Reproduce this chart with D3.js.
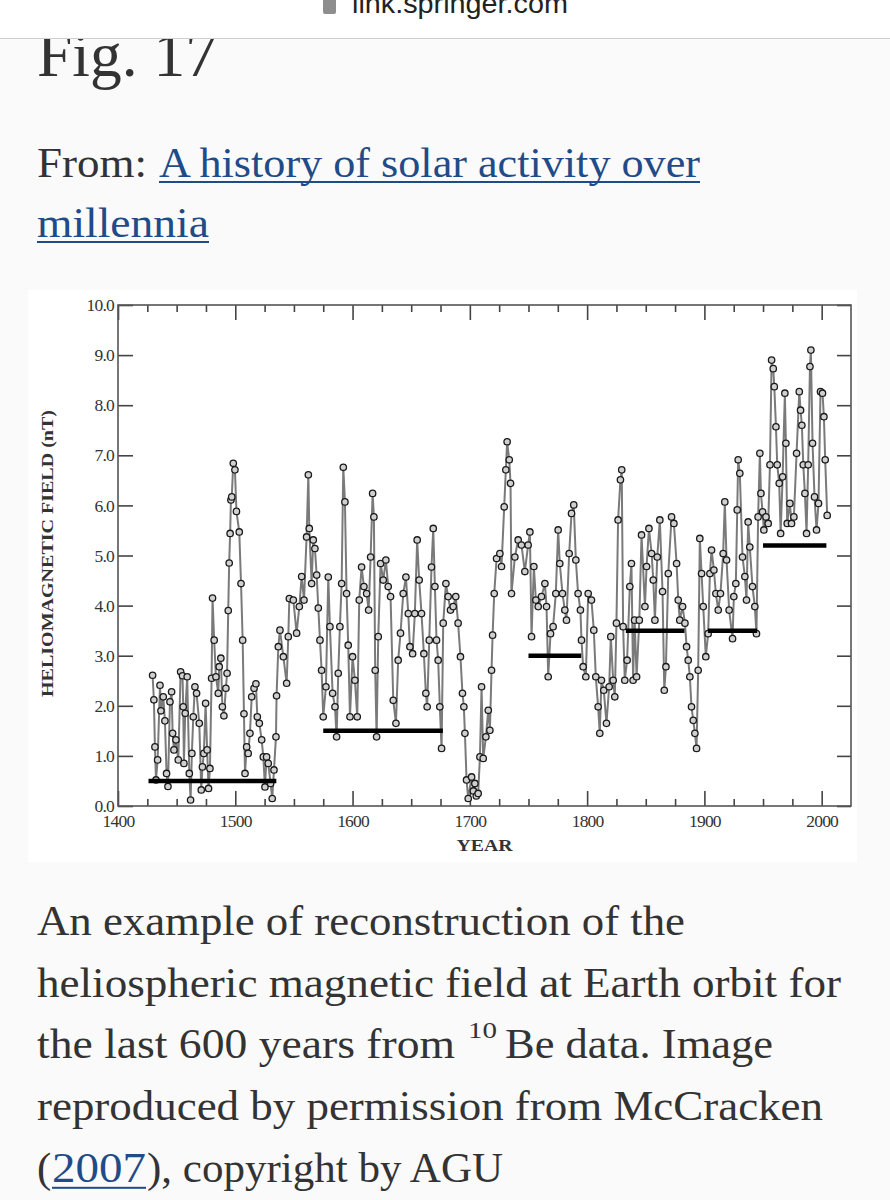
<!DOCTYPE html>
<html>
<head>
<meta charset="utf-8">
<script src="https://cdn.jsdelivr.net/npm/d3@7"></script>
<style>
  html, body { margin: 0; padding: 0; background: #fafafa; }
  svg { display: block; }
</style>
</head>
<body>
<div id="page"></div>
<script>
// Heliospheric magnetic field reconstruction from 10Be (McCracken 2007), Fig. 17 screenshot

// yearly readings taken off the figure
const years = [
  1429.5, 1430.6, 1431.5, 1432.4, 1433.8, 1435.8, 1436.6, 1438.6, 1440.0, 1441.4,
  1442.6, 1444.3, 1445.7, 1446.6, 1447.7, 1449.4, 1451.4, 1453.4, 1455.0, 1455.6,
  1456.2, 1457.3, 1459.0, 1460.8, 1461.9, 1463.0, 1464.2, 1465.6, 1467.0, 1469.3,
  1471.0, 1472.0, 1473.2, 1474.7, 1476.0, 1477.2, 1478.4, 1479.8, 1480.6, 1482.0,
  1483.5, 1485.5, 1486.3, 1487.7, 1489.0, 1490.3, 1492.0, 1493.0, 1494.0, 1494.8,
  1495.6, 1496.3, 1497.0, 1498.3, 1499.7, 1501.0, 1503.4, 1504.9, 1506.3, 1507.4,
  1508.3, 1509.7, 1511.0, 1512.5, 1514.0, 1516.0, 1517.6, 1518.8, 1520.5, 1522.5,
  1523.9, 1525.3, 1526.7, 1528.1, 1530.1, 1531.5, 1533.0, 1534.7, 1535.2, 1536.7,
  1538.1, 1541.0, 1543.8, 1545.2, 1546.1, 1549.5, 1552.3, 1554.6, 1556.6, 1558.6,
  1560.8, 1562.3, 1563.1, 1565.1, 1566.5, 1567.9, 1569.4, 1570.8, 1572.2, 1573.6,
  1575.0, 1577.3, 1579.3, 1580.7, 1583.0, 1585.0, 1586.4, 1587.8, 1589.2, 1590.7,
  1592.1, 1593.5, 1594.9, 1596.3, 1597.8, 1600.0, 1602.0, 1604.0, 1605.7, 1607.7,
  1609.7, 1612.0, 1613.7, 1615.4, 1617.1, 1618.2, 1619.3, 1620.5, 1621.9, 1623.9,
  1626.2, 1628.4, 1630.4, 1632.4, 1634.7, 1637.0, 1638.9, 1640.9, 1643.2, 1645.5,
  1647.5, 1648.9, 1651.2, 1653.1, 1655.1, 1656.8, 1658.8, 1660.8, 1662.5, 1663.6,
  1665.4, 1667.3, 1668.8, 1670.2, 1671.6, 1673.0, 1674.4, 1675.9, 1677.3, 1679.6,
  1681.5, 1683.5, 1685.8, 1688.0, 1690.0, 1692.0, 1693.7, 1694.9, 1695.8, 1697.2,
  1698.6, 1701.5, 1703.0, 1704.3, 1705.5, 1707.1, 1708.6, 1710.0, 1711.4, 1713.7,
  1715.7, 1717.1, 1718.5, 1719.4, 1720.8, 1722.8, 1725.6, 1727.0, 1729.3, 1730.7,
  1731.8, 1733.6, 1734.7, 1735.5, 1738.4, 1741.2, 1744.0, 1746.9, 1749.7, 1751.2,
  1752.6, 1754.6, 1756.3, 1758.3, 1761.1, 1764.0, 1765.4, 1766.8, 1768.8, 1771.0,
  1773.3, 1775.3, 1776.7, 1779.0, 1781.0, 1782.4, 1784.7, 1786.7, 1788.6, 1790.4,
  1792.3, 1794.3, 1795.2, 1796.6, 1798.9, 1800.9, 1803.7, 1805.7, 1807.4, 1809.4,
  1810.8, 1812.2, 1814.2, 1816.5, 1818.8, 1820.2, 1822.2, 1823.6, 1825.0, 1826.4,
  1828.4, 1829.5, 1830.7, 1832.1, 1834.1, 1836.4, 1837.8, 1839.2, 1840.5, 1842.2,
  1844.5, 1846.4, 1849.3, 1850.7, 1852.7, 1855.0, 1856.4, 1857.8, 1859.8, 1862.0,
  1864.3, 1865.8, 1867.2, 1869.2, 1872.0, 1874.0, 1876.3, 1877.7, 1879.0, 1881.4,
  1883.4, 1884.8, 1886.2, 1887.6, 1889.0, 1890.5, 1891.9, 1893.3, 1894.7, 1896.1,
  1897.6, 1899.0, 1901.2, 1903.2, 1904.7, 1906.1, 1908.1, 1909.8, 1911.8, 1913.7,
  1916.0, 1917.4, 1918.9, 1921.1, 1924.0, 1925.1, 1926.8, 1928.0, 1928.8, 1930.2,
  1932.5, 1934.5, 1935.9, 1937.3, 1938.7, 1941.0, 1943.0, 1944.4, 1945.8, 1947.3,
  1948.2, 1949.6, 1950.7, 1952.5, 1954.4, 1955.9, 1957.3, 1958.7, 1959.6, 1961.0,
  1962.1, 1963.8, 1965.0, 1966.7, 1968.6, 1969.5, 1970.6, 1972.9, 1974.3, 1976.3,
  1978.6, 1980.9, 1982.0, 1983.1, 1984.3, 1985.7, 1987.1, 1988.5, 1990.0, 1990.8,
  1992.2, 1993.9, 1995.6, 1997.3, 1999.0, 2000.7, 2001.9, 2003.0, 2004.7
];

// heliomagnetic field, nT
const hmf = [
  2.61, 2.12, 1.18, 0.52, 0.92, 2.41, 1.90, 2.18, 1.70, 0.65,
  0.39, 2.08, 2.28, 1.45, 1.12, 1.32, 0.92, 2.68, 2.60, 1.98,
  0.85, 1.85, 2.58, 0.65, 0.12, 1.05, 1.78, 2.38, 2.25, 1.65,
  0.32, 0.78, 1.05, 2.05, 1.12, 0.35, 0.75, 2.55, 4.15, 3.31,
  2.58, 2.25, 2.78, 2.95, 1.98, 1.80, 2.35, 2.65, 3.90, 4.85,
  5.44, 6.11, 6.17, 6.84, 6.71, 5.88, 5.47, 4.44, 3.31, 1.84,
  0.65, 1.18, 1.05, 1.45, 2.18, 2.35, 2.44, 1.78, 1.65, 1.32,
  0.98, 0.38, 0.98, 0.85, 0.45, 0.15, 0.72, 1.38, 2.20, 3.18,
  3.51, 2.98, 2.45, 3.38, 4.14, 4.11, 3.45, 3.98, 4.58, 4.11,
  5.37, 6.61, 5.54, 4.44, 5.31, 5.14, 4.61, 3.95, 3.31, 2.71,
  1.78, 2.38, 4.57, 3.58, 2.25, 1.98, 1.38, 2.65, 3.58, 4.44,
  6.76, 6.07, 4.24, 3.21, 1.78, 2.98, 2.51, 1.78, 4.11, 4.77,
  4.38, 4.24, 3.91, 4.97, 6.24, 5.77, 2.71, 1.38, 3.38, 4.84,
  4.51, 4.91, 4.38, 4.18, 2.11, 1.65, 2.91, 3.45, 4.24, 4.57,
  3.84, 3.18, 3.04, 3.84, 5.31, 4.51, 3.84, 3.04, 2.25, 1.98,
  3.31, 4.77, 5.54, 4.38, 3.31, 2.91, 1.98, 1.15, 3.65, 4.44,
  4.18, 3.91, 3.98, 4.18, 3.65, 2.98, 2.25, 1.98, 1.45, 0.52,
  0.15, 0.58, 0.30, 0.45, 0.20, 0.25, 0.98, 2.38, 0.95, 1.38,
  1.91, 1.51, 2.71, 3.41, 4.24, 4.94, 5.04, 4.78, 5.97, 6.71,
  7.27, 6.91, 6.44, 4.24, 4.97, 5.31, 5.21, 4.68, 5.21, 5.47,
  3.38, 4.78, 4.11, 3.98, 4.18, 4.44, 3.98, 2.58, 3.44, 3.58,
  4.24, 5.51, 4.84, 4.24, 3.91, 3.71, 5.04, 5.84, 6.01, 4.91,
  4.24, 3.91, 3.31, 2.78, 2.58, 4.24, 4.11, 3.51, 2.58, 1.98,
  1.45, 2.51, 2.31, 1.65, 2.38, 3.38, 2.51, 2.18, 3.65, 5.71,
  6.51, 6.71, 3.58, 2.51, 2.91, 4.38, 4.84, 2.51, 3.71, 2.58,
  3.71, 5.41, 3.98, 4.78, 5.54, 5.04, 4.51, 3.71, 4.97, 5.71,
  4.28, 2.31, 2.78, 4.64, 5.77, 5.64, 4.84, 4.11, 3.71, 3.98,
  3.65, 3.18, 2.91, 2.58, 1.98, 1.71, 1.45, 1.15, 2.71, 5.34,
  4.64, 3.98, 2.98, 3.44, 4.64, 5.11, 4.71, 4.24, 3.91, 4.24,
  5.04, 6.07, 4.91, 3.91, 3.34, 4.18, 4.44, 5.91, 6.91, 6.64,
  4.97, 4.58, 4.11, 5.67, 5.17, 4.38, 3.98, 3.44, 5.77, 7.04,
  6.24, 5.87, 5.51, 5.77, 5.64, 6.81, 8.90, 8.73, 8.37, 7.57,
  6.81, 6.44, 5.44, 6.57, 8.24, 7.24, 5.64, 6.04, 5.64, 5.77,
  7.04, 8.27, 7.90, 7.60, 6.81, 6.24, 5.44, 6.81, 8.77, 9.10,
  7.24, 6.17, 5.51, 6.04, 8.27, 8.24, 7.77, 6.91, 5.80
];

// mean levels (thick black bars)
const barStart = [1426, 1575, 1750, 1833, 1903, 1950];
const barEnd   = [1535, 1677, 1795, 1883, 1945, 2004];
const barLevel = [0.5, 1.5, 3.0, 3.5, 3.5, 5.2];

const yTicks = [0, 1, 2, 3, 4, 5, 6, 7, 8, 9, 10];
const xMajor = [1400, 1500, 1600, 1700, 1800, 1900, 2000];
const xMinor = [1425, 1450, 1475, 1525, 1550, 1575, 1625, 1650, 1675, 1725, 1750, 1775,
                1825, 1850, 1875, 1925, 1950, 1975];

const captionLines = [
  "An example of reconstruction of the",
  "heliospheric magnetic field at Earth orbit for",
  "the last 600 years from",
  "reproduced by permission from McCracken"
];

const W = 890, H = 1200;
const SERIF = "'Liberation Serif', 'DejaVu Serif', serif";
const TEXT = "#333";
const LINK = "#1f4c88";

const svg = d3.select("#page").append("svg")
  .attr("width", W).attr("height", H);

svg.append("rect").attr("width", W).attr("height", H).attr("fill", "#fafafa");

// ---- page heading (top is hidden under the browser bar) ----
svg.append("text")
  .attr("x", 37).attr("y", 76)
  .attr("textLength", 180).attr("lengthAdjust", "spacingAndGlyphs")
  .style("font-family", SERIF).style("font-size", "64px").style("fill", TEXT)
  .text("Fig. 17");

// ---- browser bar ----
svg.append("rect").attr("y", 0).attr("width", W).attr("height", 38).attr("fill", "#fff");
svg.append("line").attr("x1", 0).attr("x2", W).attr("y1", 38.5).attr("y2", 38.5)
  .attr("stroke", "#cfcfcf").attr("stroke-width", 1.2);
svg.append("rect").attr("x", 323).attr("y", -4).attr("width", 13).attr("height", 18)
  .attr("rx", 2).attr("fill", "#8e8e8e");
svg.append("text")
  .attr("x", 352).attr("y", 13)
  .attr("textLength", 216).attr("lengthAdjust", "spacingAndGlyphs")
  .style("font-family", "'Liberation Sans', Arial, sans-serif")
  .style("font-size", "27px").style("fill", "#222")
  .text("link.springer.com");

svg.append("text")
  .attr("x", 37).attr("y", 177)
  .attr("textLength", 110).attr("lengthAdjust", "spacingAndGlyphs")
  .style("font-family", SERIF).style("font-size", "42px").style("fill", TEXT)
  .text("From:");
svg.append("text")
  .attr("x", 159).attr("y", 177)
  .attr("textLength", 541).attr("lengthAdjust", "spacingAndGlyphs")
  .style("font-family", SERIF).style("font-size", "42px").style("fill", LINK)
  .text("A history of solar activity over");
svg.append("rect").attr("x", 159).attr("y", 181).attr("width", 541).attr("height", 2).attr("fill", LINK);
svg.append("text")
  .attr("x", 37).attr("y", 237)
  .attr("textLength", 172).attr("lengthAdjust", "spacingAndGlyphs")
  .style("font-family", SERIF).style("font-size", "42px").style("fill", LINK)
  .text("millennia");
svg.append("rect").attr("x", 37).attr("y", 241).attr("width", 172).attr("height", 2).attr("fill", LINK);

// ---- figure ----
svg.append("rect").attr("x", 28).attr("y", 290).attr("width", 829).attr("height", 572).attr("fill", "#fff");

const x = d3.scaleLinear().domain([1400, 2025]).range([118, 851]);
const y = d3.scaleLinear().domain([0, 10]).range([806, 305]);

const plot = svg.append("g");

function styleAxis(g) {
  g.select(".domain").remove();
  g.selectAll(".tick line").attr("stroke", "#444").attr("stroke-width", 1.6);
  g.selectAll(".tick text")
    .style("font-family", SERIF).style("font-size", "17.5px")
    .style("letter-spacing", "-0.8px").attr("fill", "#333");
}

// bottom
plot.append("g").attr("transform", `translate(0,${y(0)})`)
  .call(d3.axisBottom(x).tickValues(xMajor).tickSize(-15).tickPadding(9).tickFormat(d3.format("d")))
  .call(styleAxis);
plot.append("g").attr("transform", `translate(0,${y(0)})`)
  .call(d3.axisBottom(x).tickValues(xMinor).tickSize(-7).tickFormat(""))
  .call(styleAxis);
// top
plot.append("g").attr("transform", `translate(0,${y(10)})`)
  .call(d3.axisTop(x).tickValues(xMajor).tickSize(-15).tickFormat(""))
  .call(styleAxis);
plot.append("g").attr("transform", `translate(0,${y(10)})`)
  .call(d3.axisTop(x).tickValues(xMinor).tickSize(-7).tickFormat(""))
  .call(styleAxis);
// left
plot.append("g").attr("transform", `translate(${x(1400)},0)`)
  .call(d3.axisLeft(y).tickValues(yTicks).tickSize(-15).tickPadding(4).tickFormat(d3.format(".1f")))
  .call(styleAxis);
// right
plot.append("g").attr("transform", `translate(${x(2025)},0)`)
  .call(d3.axisRight(y).tickValues(yTicks).tickSize(-14).tickFormat(""))
  .call(styleAxis);

plot.append("rect")
  .attr("x", x(1400)).attr("y", y(10))
  .attr("width", x(2025) - x(1400)).attr("height", y(0) - y(10))
  .attr("fill", "none").attr("stroke", "#555").attr("stroke-width", 1.6);

// series
const data = years.map((yr, i) => ({ year: yr, v: hmf[i] }));

plot.append("path")
  .datum(data)
  .attr("fill", "none")
  .attr("stroke", "#7a7a7a")
  .attr("stroke-width", 2)
  .attr("d", d3.line().x(d => x(d.year)).y(d => y(d.v)));

plot.selectAll(".pt")
  .data(data)
  .join("circle")
  .attr("class", "pt")
  .attr("cx", d => x(d.year))
  .attr("cy", d => y(d.v))
  .attr("r", 3.2)
  .attr("fill", "#d0d0d0")
  .attr("stroke", "#1a1a1a")
  .attr("stroke-width", 1.3);

// mean levels
plot.selectAll(".bar")
  .data(barLevel)
  .join("line")
  .attr("class", "bar")
  .attr("x1", (d, i) => x(barStart[i]))
  .attr("x2", (d, i) => x(barEnd[i]))
  .attr("y1", d => y(d))
  .attr("y2", d => y(d))
  .attr("stroke", "#000")
  .attr("stroke-width", 4.5);

// axis titles
svg.append("text")
  .attr("x", (x(1400) + x(2025)) / 2).attr("y", 851)
  .attr("text-anchor", "middle")
  .attr("textLength", 56).attr("lengthAdjust", "spacingAndGlyphs")
  .style("font-family", SERIF).style("font-size", "17px").style("font-weight", "bold")
  .style("fill", "#333")
  .text("YEAR");

svg.append("text")
  .attr("transform", `translate(53,${(y(0) + y(10)) / 2 - 2}) rotate(-90)`)
  .attr("text-anchor", "middle")
  .attr("textLength", 287).attr("lengthAdjust", "spacingAndGlyphs")
  .style("font-family", SERIF).style("font-size", "16px").style("font-weight", "bold")
  .style("fill", "#333")
  .text("HELIOMAGNETIC FIELD (nT)");

// ---- caption ----
const capRight = [685, 841, 455, 823];
const capY = d3.scaleLinear().domain([0, 1]).range([935, 996.7]);

svg.selectAll(".cap")
  .data(captionLines)
  .join("text")
  .attr("class", "cap")
  .attr("x", 37)
  .attr("y", (d, i) => capY(i))
  .attr("textLength", (d, i) => capRight[i] - 37)
  .attr("lengthAdjust", "spacingAndGlyphs")
  .style("font-family", SERIF).style("font-size", "43px").style("fill", TEXT)
  .text(d => d);

svg.append("text")
  .attr("x", 468).attr("y", capY(2) - 20)
  .attr("textLength", 29).attr("lengthAdjust", "spacingAndGlyphs")
  .style("font-family", SERIF).style("font-size", "23px").style("fill", TEXT)
  .text("10");
svg.append("text")
  .attr("x", 505).attr("y", capY(2))
  .attr("textLength", 268).attr("lengthAdjust", "spacingAndGlyphs")
  .style("font-family", SERIF).style("font-size", "43px").style("fill", TEXT)
  .text("Be data. Image");

const lastY = capY(4);
svg.append("text")
  .attr("x", 37).attr("y", lastY)
  .style("font-family", SERIF).style("font-size", "43px").style("fill", TEXT)
  .text("(");
svg.append("text")
  .attr("x", 52).attr("y", lastY)
  .attr("textLength", 94).attr("lengthAdjust", "spacingAndGlyphs")
  .style("font-family", SERIF).style("font-size", "43px").style("fill", LINK)
  .text("2007");
svg.append("rect").attr("x", 52).attr("y", lastY + 5).attr("width", 94).attr("height", 2).attr("fill", LINK);
svg.append("text")
  .attr("x", 147).attr("y", lastY)
  .attr("textLength", 356).attr("lengthAdjust", "spacingAndGlyphs")
  .style("font-family", SERIF).style("font-size", "43px").style("fill", TEXT)
  .text("), copyright by AGU");
</script>
</body>
</html>
